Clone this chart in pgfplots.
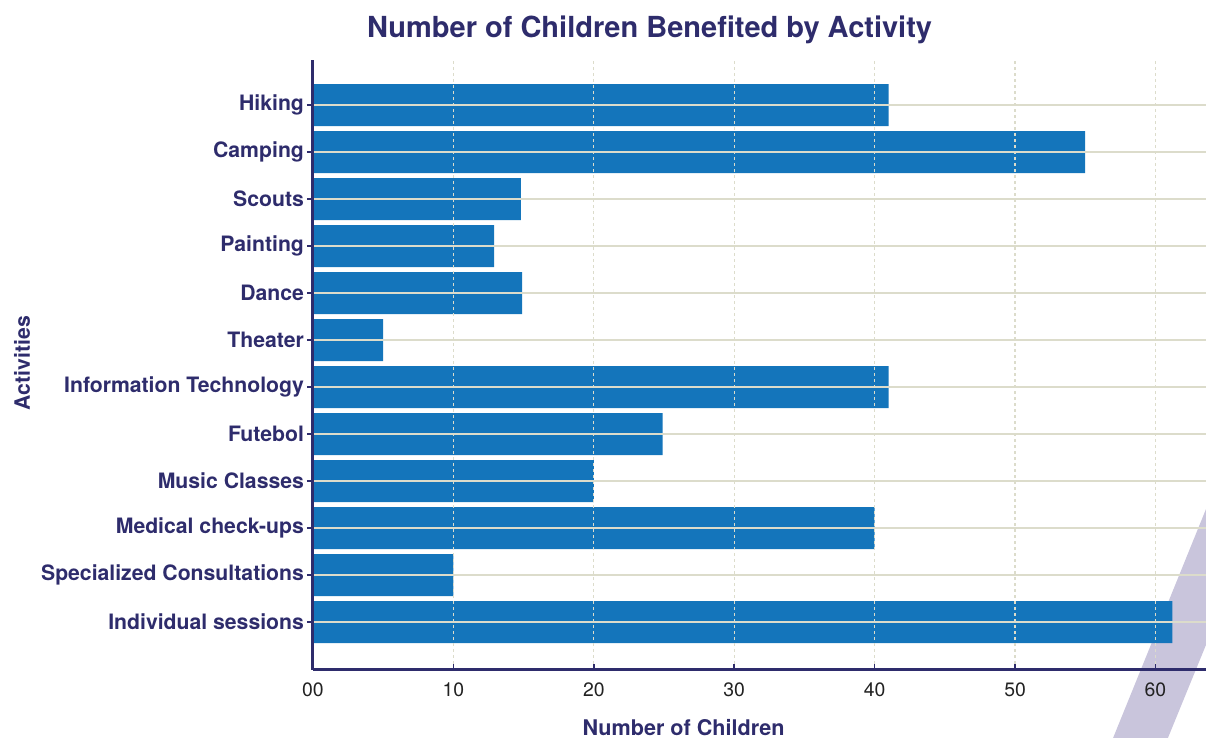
\documentclass[border=0pt]{standalone}
\usepackage{fontspec}
\setmainfont{TeX Gyre Heros}
\usepackage{pgfplots}
\pgfplotsset{compat=1.18}

\definecolor{navy}{HTML}{2E2C6C}
\definecolor{barblue}{HTML}{1475BB}
\definecolor{gridbeige}{HTML}{DCDCCB}
\definecolor{stripe}{HTML}{C9C5DC}
\definecolor{ticktext}{HTML}{222222}

\begin{document}
\begin{tikzpicture}
% decorative stripe, bottom right
\fill[stripe] (397.6pt,-40pt) -- (450pt,89.1pt) -- (450pt,21.1pt) -- (425pt,-40pt) -- cycle;

\begin{axis}[
  scale only axis, width=446.5pt, height=305pt,
  at={(0,0)}, anchor=south west,
  xmin=0, xmax=63.6, ymin=-1.02, ymax=11.96,
  enlargelimits=false,
  axis x line*=bottom, axis y line*=left,
  axis line style={-, navy, line width=1.5pt},
  xtick={0,10,...,60}, xticklabels={00,10,20,30,40,50,60},
  ytick={0,...,11},
  yticklabels={Individual sessions, Specialized Consultations, Medical check-ups,
    Music Classes, Futebol, Information Technology, Theater, Dance, Painting,
    Scouts, Camping, Hiking},
  tick align=inside, major tick length=3pt,
  tick style={navy, line width=0.8pt},
  xmajorgrids, ymajorgrids,
  every axis x grid/.append style={gridbeige, line width=0.6pt, dash pattern=on 1.5pt off 1.5pt},
  every axis y grid/.append style={gridbeige, line width=0.8pt, solid},
  axis on top,
  /pgf/number format/assume math mode=true,
  xticklabel style={font=\fontsize{9.7}{11}\selectfont, text=ticktext, yshift=-2.8pt},
  yticklabel style={font=\fontsize{10.6}{12}\selectfont\bfseries, text=navy, xshift=2pt},
  title={Number of Children Benefited by Activity},
  title style={at={(0.377,1)}, anchor=center, yshift=9pt,
    font=\fontsize{14.5}{17}\selectfont\bfseries, text=navy},
  xlabel={Number of Children},
  xlabel style={at={(0.415,0)}, anchor=center, yshift=-29pt,
    font=\fontsize{10.8}{13}\selectfont\bfseries, text=navy},
  ylabel={Activities},
  ylabel style={at={(0,0.503)}, anchor=center, yshift=145.5pt,
    font=\fontsize{10.6}{13}\selectfont\bfseries, text=navy},
  xbar, bar width=0.894,
]
\addplot[fill=barblue, draw=none] coordinates {
  (61.2,0) (10,1) (40,2) (20,3) (24.9,4) (41,5)
  (5,6) (14.9,7) (12.9,8) (14.8,9) (55,10) (41,11)
};
\end{axis}
\pgfresetboundingbox
\useasboundingbox (-156.5pt,-34pt) rectangle (446.5pt,335pt);
\end{tikzpicture}
\end{document}
